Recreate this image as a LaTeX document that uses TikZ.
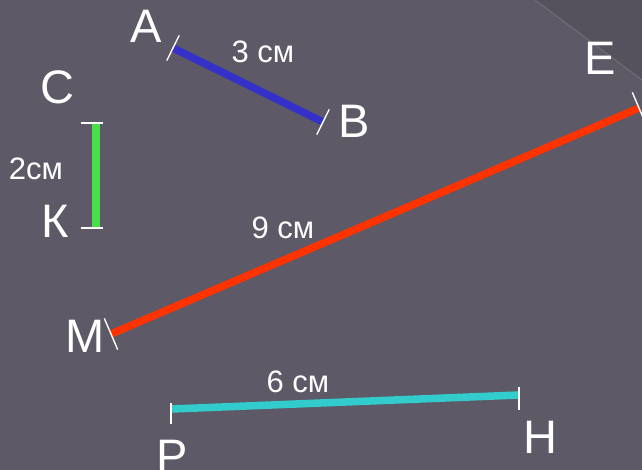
\documentclass[tikz,border=0pt]{standalone}
\usepackage{fontspec}
\setmainfont{Liberation Sans}
\usetikzlibrary{calc}
\definecolor{bg}{HTML}{5D5966}
\definecolor{bgdark}{HTML}{55515D}
\definecolor{bgline}{HTML}{76727E}
\definecolor{segblue}{HTML}{3430C8}
\definecolor{segred}{HTML}{FF3300}
\definecolor{seggreen}{HTML}{48E048}
\definecolor{segcyan}{HTML}{33CCCC}
\tikzset{
  letter/.style={anchor=base, inner sep=0pt, text=white, font=\fontsize{47}{47}\selectfont},
  lenlabel/.style={anchor=base, inner sep=0pt, text=white, font=\fontsize{31}{31}\selectfont},
  seg/.style={line width=7.5pt, line cap=butt},
  tick/.style={draw=white, line width=1.4pt}
}
\begin{document}
\begin{tikzpicture}[x=1pt,y=-1pt]
\useasboundingbox (0,0) rectangle (642,470);
\fill[bg] (0,0) rectangle (642,470);
\fill[bgdark] (535,0) -- (642,0) -- (642,80) -- cycle;
\draw[bgline, line width=0.8pt] (535,0) -- (642,80);

% endpoints
\coordinate (pA) at (173,48);
\coordinate (pB) at (323,122);
\coordinate (pC) at (96,123);
\coordinate (pK) at (96,228);
\coordinate (pM) at (111,334);
\coordinate (pE) at (639,108);
\coordinate (pP) at (172,409);
\coordinate (pH) at (519,395);

% segments
\draw[seg, segblue] (pA) -- (pB);
\draw[seg, seggreen, line width=8pt] (pC) -- (pK);
\draw[seg, segred] (pM) -- (pE);
\draw[seg, segcyan] (pP) -- (pH);

% ticks
\draw[tick] ($(pA)!14pt!90:(pB)$) -- ($(pA)!14pt!-90:(pB)$);
\draw[tick] ($(pB)!14pt!90:(pA)$) -- ($(pB)!14pt!-90:(pA)$);
\draw[tick] ($(pM)!17pt!90:(pE)$) -- ($(pM)!17pt!-90:(pE)$);
\draw[tick] ($(pE)!17pt!90:(pM)$) -- ($(pE)!17pt!-90:(pM)$);
\draw[tick] (81,123) -- (103,123);
\draw[tick] (81,228) -- (103,228);
\draw[tick] (171,403) -- (171,424);
\draw[tick] (519,387) -- (519,410);

% letters
\node[letter] (lA) at (146,43) {А};
\node[letter] (lB) at (354,138) {В};
\node[letter] (lC) at (57,104) {С};
\node[letter] (lK) at (55,238) {К};
\node[letter] (lE) at (600,75) {Е};
\node[letter] (lM) at (85,352) {М};
\node[letter] (lP) at (172,472) {Р};
\node[letter] (lH) at (540,453) {Н};

% lengths
\node[lenlabel] (tAB) at (263,63) {3 см};
\node[lenlabel] (tCK) at (36,180) {2см};
\node[lenlabel] (tME) at (283,239) {9 см};
\node[lenlabel] (tPH) at (298,392) {6 см};
\end{tikzpicture}
\end{document}
